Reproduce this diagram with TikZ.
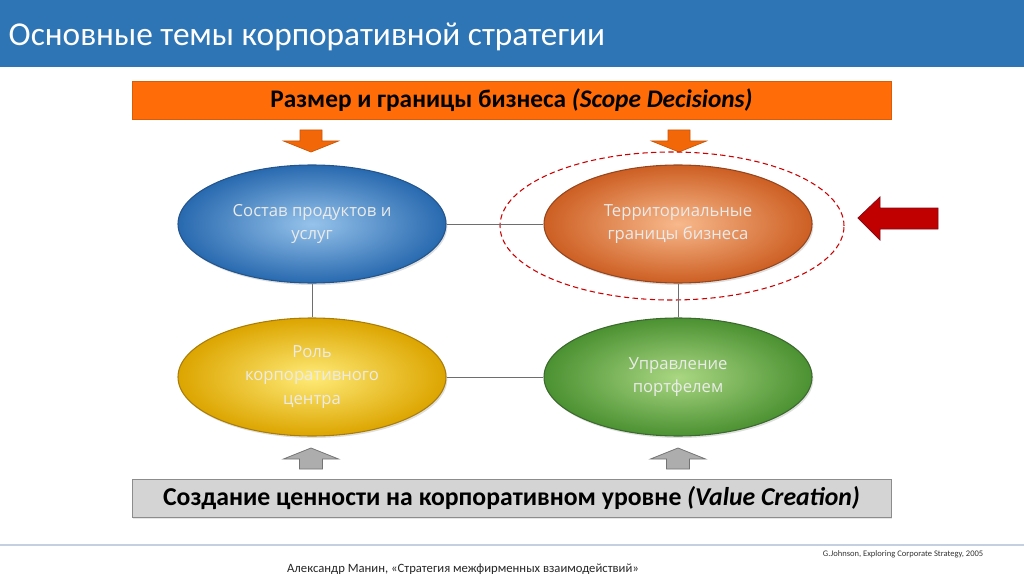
\documentclass[tikz,border=0pt]{standalone}
\usepackage{fontspec}
\setmainfont{Carlito}
\newfontfamily\ovalfont{Open Sans}
\usepackage{tikz}
\usetikzlibrary{positioning,shapes.geometric,shadows,calc}

\definecolor{titleblue}{RGB}{46,117,182}
\definecolor{barorange}{RGB}{255,108,8}
\definecolor{bargray}{RGB}{212,212,212}
\definecolor{linegray}{RGB}{110,110,110}
\definecolor{footline}{RGB}{196,208,224}

\begin{document}
\begin{tikzpicture}[x=0.75pt,y=-0.75pt,
  oval/.style={ellipse, minimum width=201pt, minimum height=88.5pt, inner sep=0pt,
    align=center, text=white!92!black, font=\ovalfont\fontsize{12.5}{17.5}\selectfont,
    line width=0.8pt, drop shadow={opacity=0.25, shadow xshift=1pt, shadow yshift=-1.5pt}},
  bar/.style={minimum width=569.25pt, minimum height=28.5pt, inner sep=0pt,
    drop shadow={opacity=0.2, shadow xshift=1pt, shadow yshift=-1pt}},
  link/.style={draw=linegray, line width=0.6pt},
  downarr/.style={fill=barorange!95!black, draw=barorange!80!black, line width=0.5pt},
  uparr/.style={fill=black!32, draw=black!55, line width=0.6pt},
]
\useasboundingbox (0,0) rectangle (1024,574);

% Title
\fill[titleblue] (0,0) rectangle (1024,67);
\node[anchor=west, text=white, font=\fontsize{25}{29}\selectfont] (title) at (4,37)
  {Основные темы корпоративной стратегии};

% Scope bar
\node[bar, fill=barorange, draw=barorange!85!black, font=\bfseries\fontsize{19}{22}\selectfont] (scope) at (511.5,100)
  {Размер и границы бизнеса \textit{(Scope Decisions)}};

% Down arrows
\foreach \cx in {311,679} {
  \draw[downarr] (\cx,130) ++(-11,0) -- ++(22,0) -- ++(0,11) -- ++(16.5,0)
    -- ++(-27.5,11) -- ++(-27.5,-11) -- ++(16.5,0) -- cycle;
}

% Focus ring
\node[ellipse, minimum width=258pt, minimum height=111pt, draw=red!80!black,
  dash pattern=on 4pt off 2.5pt, line width=0.8pt] (focus) at (672,226) {};

% Themes
\node[oval, inner color={rgb,255:red,150;green,195;blue,235}, outer color={rgb,255:red,40;green,105;blue,175},
  draw={rgb,255:red,35;green,85;blue,140}] (prod) at (312,224) {Состав продуктов и\\услуг};
\node[oval, inner color={rgb,255:red,248;green,185;blue,140}, outer color={rgb,255:red,205;green,95;blue,35},
  draw={rgb,255:red,150;green,70;blue,30}] (terr) at (678,224) {Территориальные\\границы бизнеса};
\node[oval, inner color={rgb,255:red,255;green,235;blue,120}, outer color={rgb,255:red,220;green,165;blue,0},
  draw={rgb,255:red,170;green,125;blue,10}] (role) at (312,377) {Роль\\корпоративного\\центра};
\node[oval, inner color={rgb,255:red,170;green,215;blue,130}, outer color={rgb,255:red,75;green,145;blue,50},
  draw={rgb,255:red,60;green,105;blue,45}] (port) at (678,377) {Управление\\портфелем};

% Links
\draw[link] (prod) -- (terr);
\draw[link] (role) -- (port);
\draw[link] (prod) -- (role);
\draw[link] (terr) -- (port);

% Red pointer
\draw[fill={rgb,255:red,192;green,0;blue,0}, draw={rgb,255:red,130;green,10;blue,20}, line width=0.6pt]
  (858,218) -- (880,197) -- (880,208) -- (938,208) -- (938,229) -- (880,229) -- (880,240) -- cycle;

% Up arrows
\foreach \cx in {311,678} {
  \draw[uparr] (\cx,448) -- ++(27.5,11) -- ++(-16,0) -- ++(0,10) -- ++(-23,0)
    -- ++(0,-10) -- ++(-16,0) -- cycle;
}

% Value bar
\node[bar, fill=bargray, draw=black!45, font=\bfseries\fontsize{19.3}{23}\selectfont] (value) at (511.5,498.5)
  {Создание ценности на корпоративном уровне \textit{(Value Creation)}};

% Footer
\draw[footline, line width=0.8pt] (0,545) -- (1024,545);
\node[anchor=base east, font=\fontsize{6.4}{7}\selectfont, text=black!80] (src) at (988,556)
  {G.Johnson, Exploring Corporate Strategy, 2005};
\node[anchor=base, font=\fontsize{9.5}{11}\selectfont, text=black!85] (author) at (463,572)
  {Александр Манин, «Стратегия межфирменных взаимодействий»};
\end{tikzpicture}
\end{document}
